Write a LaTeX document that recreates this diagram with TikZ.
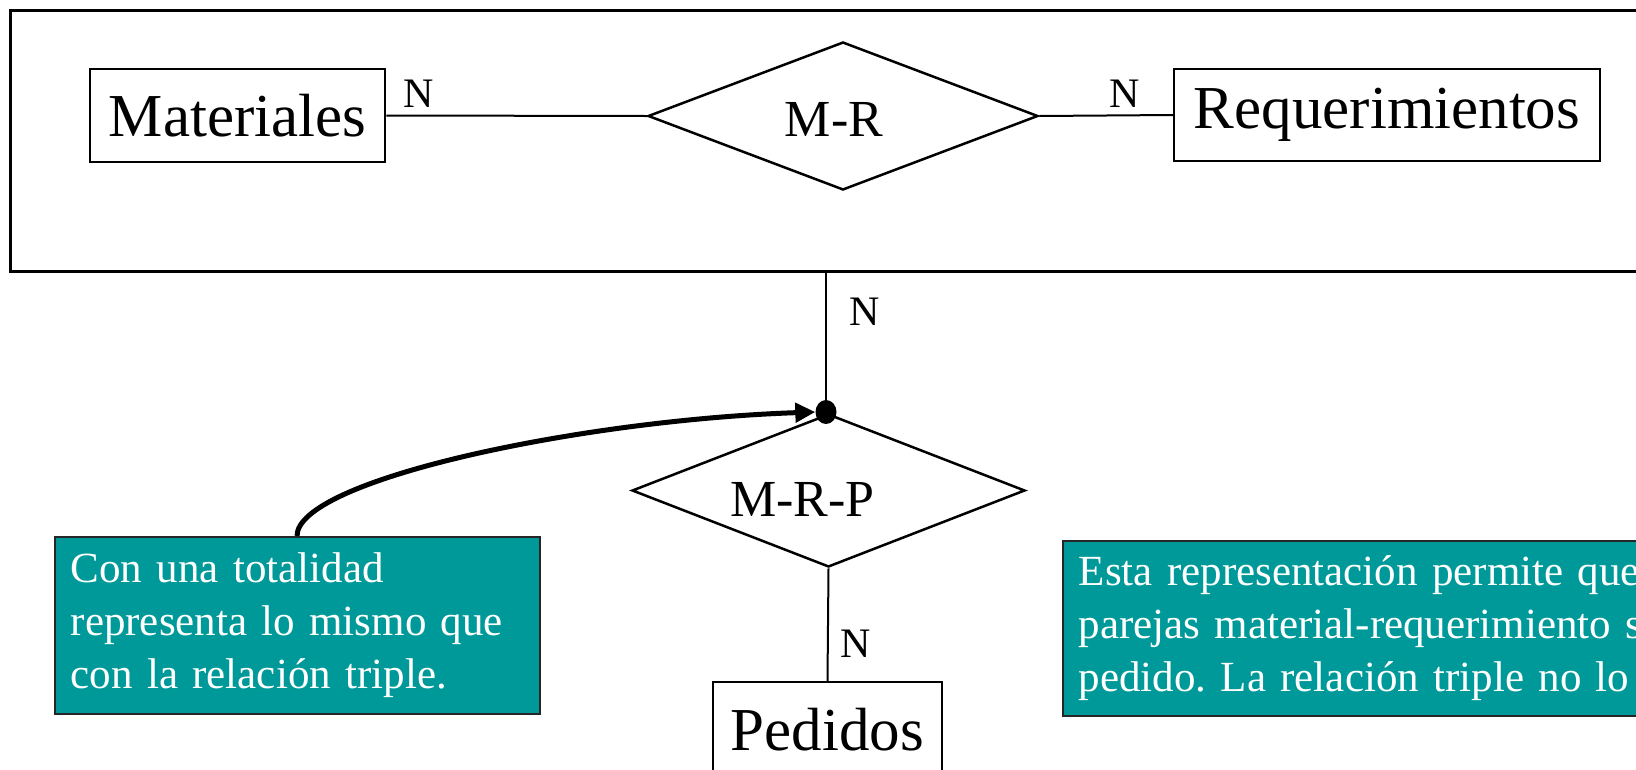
\documentclass[tikz,border=0pt]{standalone}
\usepackage{fontspec}
\setmainfont{Liberation Serif}
\usetikzlibrary{shapes.geometric,arrows.meta}
\definecolor{tealnote}{RGB}{0,153,153}
\begin{document}
\frenchspacing
\begin{tikzpicture}[x=1pt,y=-1pt,
  entity/.style={draw, line width=2.5pt, rectangle, inner sep=0pt, font=\fontsize{61}{73}\selectfont},
  rel/.style={draw, diamond, line width=2.5pt, inner sep=0pt, aspect=2.6},
  rellabel/.style={font=\fontsize{52}{62}\selectfont, inner sep=0pt},
  card/.style={font=\fontsize{42}{50}\selectfont, anchor=base, inner sep=0pt},
  conn/.style={line width=2pt},
  note/.style={fill=tealnote, draw=black!85, line width=1.5pt, text=white,
    font=\fontsize{43}{53}\selectfont\frenchspacing, align=left, anchor=north west,
    inner xsep=16pt, inner ysep=0pt},
]
\useasboundingbox (0,0) rectangle (1636,769);
\fill[white] (0,0) rectangle (1636,769);

% outer aggregation box
\node[draw, line width=3pt, minimum width=1700, minimum height=261, anchor=north west, inner sep=0pt] (outer) at (9,9) {};

% entities
\node[entity, minimum width=295, minimum height=93] (mat) at (237.5,115.5) {Materiales};
\node[entity, minimum width=426, minimum height=92] (req) at (1387,115) {Requerimientos};
\node[entity, minimum width=229, minimum height=96] (ped) at (827.5,730) {Pedidos};

% relationships
\node[rel, minimum width=390, minimum height=148,
  label={[rellabel, xshift=-9pt, yshift=-3.5pt]center:M-R}] (mr) at (843,116) {};
\node[rel, minimum width=393, minimum height=153,
  label={[rellabel, xshift=-26pt, yshift=-8.5pt]center:M-R-P}] (mrp) at (828.5,490.5) {};

% totality dot
\node[fill, ellipse, minimum width=21, minimum height=24, inner sep=0pt] (dot) at (826,412) {};

% connectors
\draw[conn] (mat.east) -- (mr.west);
\draw[conn] (mr.east) -- (req.west);
\draw[conn] (dot.north) -- (dot.north |- outer.south);
\draw[conn] (mrp.south) -- (ped.north);

% cardinalities
\node[card] (n1) at (419,107) {N};
\node[card] (n2) at (1125,107) {N};
\node[card] (n3) at (865,325) {N};
\node[card] (n4) at (856,657) {N};

% notes
\node[note, minimum width=485, minimum height=177, text width=453] (leftnote) at (54,536)
  {Con una totalidad\\representa lo mismo que\\con la relación triple.};
\node[note, minimum width=640, minimum height=175, text width=608] (rightnote) at (1062,540)
  {Esta representación permite que\\parejas material-requerimiento s\\pedido. La relación triple no lo p};

% curved arrow
\coordinate (cs) at (297,536);
\draw[line width=5pt, -{Triangle[length=20pt,width=19pt]}] (cs) .. controls (297,480) and (580,420) .. (dot.west);
\end{tikzpicture}
\end{document}
